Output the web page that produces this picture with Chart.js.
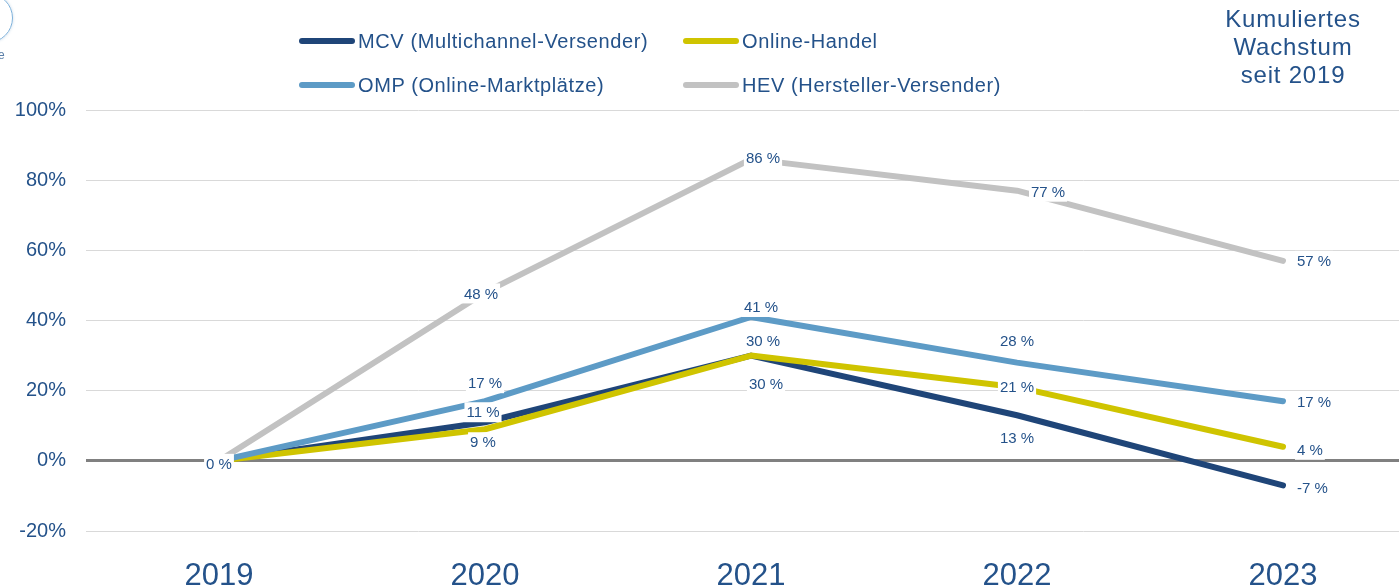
<!DOCTYPE html>
<html>
<head>
<meta charset="utf-8">
<script src="https://cdn.jsdelivr.net/npm/chart.js@4/dist/chart.umd.min.js"></script>
<style>
  body { margin: 0; width: 1399px; height: 586px; overflow: hidden; background: #fff; font-family: "Liberation Sans", Arial, sans-serif; }
  #wrap { position: absolute; left: 0; top: 0; width: 1416px; height: 586px; }
  .legend-item { position: absolute; height: 24px; display: flex; align-items: center; font-size: 20px; letter-spacing: 0.6px; color: #24528a; white-space: nowrap; }
  .legend-item .sw { display: inline-block; width: 56px; height: 6px; border-radius: 3px; margin-right: 3px; }
  #title { position: absolute; left: 1193px; top: 5px; width: 200px; text-align: center; font-size: 24px; line-height: 28px; letter-spacing: 0.8px; color: #24528a; }
  #logo { position: absolute; left: -37px; top: -7px; width: 48px; height: 48px; border: 1.5px solid #7eb1da; border-radius: 50%; box-shadow: 0 0 3px rgba(120,160,200,0.4); }
  #logoText { position: absolute; left: -2px; top: 48px; font-size: 12px; color: #5a7fa8; }
</style>
</head>
<body>
<div id="wrap"><canvas id="chart"></canvas></div>
<div id="logo"></div>
<div id="logoText">e</div>
<div id="title">Kumuliertes<br>Wachstum<br>seit 2019</div>
<div id="legend"></div>
<script>
// chart data
const years = ['2019', '2020', '2021', '2022', '2023'];
const seriesNames = ['MCV (Multichannel-Versender)', 'Online-Handel', 'OMP (Online-Marktplätze)', 'HEV (Hersteller-Versender)'];
const mcvValues = [0, 11, 30, 13, -7];
const onlineValues = [0, 9, 30, 21, 4];
const ompValues = [0, 17, 41, 28, 17];
const hevValues = [0, 48, 86, 77, 57];
const yMin = -20, yMax = 100, yStep = 20;

const textColor = '#24528a';
const seriesColors = ['#1f4578', '#cfc400', '#5d9bc6', '#c2c2c2'];

// label placement per point: [align, dx, dy]  (c = centered, r = right of point)
const labelPlaces = [
  [['c', 0, 3], ['c', -2, -10], ['c', 12, -15], ['c', 0, 23], ['r', 14, 2]],
  [null, ['c', -2, 13], ['c', 15, 28], ['c', 0, 0], ['r', 14, 3]],
  [null, ['c', 0, -18], ['c', 10, -10], ['c', 0, -22], ['r', 14, 1]],
  [null, ['c', -4, 1], ['c', 12, -1], ['r', 14, 1], ['r', 14, 0]]
];
// legend item positions (left, top)
const legendPos = [[299, 29], [683, 29], [299, 73], [683, 73]];

const allValues = [mcvValues, onlineValues, ompValues, hevValues];
const drawOrder = [3, 2, 1, 4];

// html legend
const legendEl = document.getElementById('legend');
seriesNames.forEach(function(name, i) {
  const item = document.createElement('div');
  item.className = 'legend-item';
  item.style.left = legendPos[i][0] + 'px';
  item.style.top = legendPos[i][1] + 'px';
  item.innerHTML = '<span class="sw" style="background:' + seriesColors[i] + '"></span>' + name;
  legendEl.appendChild(item);
});

const pointLabels = {
  id: 'pointLabels',
  afterDatasetsDraw(chart) {
    const ctx = chart.ctx;
    ctx.save();
    ctx.font = '15px "Liberation Sans", Arial, sans-serif';
    ctx.textBaseline = 'middle';
    ctx.textAlign = 'left';
    chart.data.datasets.forEach(function(ds, i) {
      const meta = chart.getDatasetMeta(i);
      meta.data.forEach(function(pt, j) {
        const place = labelPlaces[i][j];
        if (!place) return;
        const txt = ds.data[j] + ' %';
        const w = ctx.measureText(txt).width;
        const y = pt.y + place[2];
        const left = place[0] === 'r' ? pt.x + place[1] : pt.x + place[1] - w / 2;
        ctx.fillStyle = '#fff';
        ctx.fillRect(left - 2, y - 10, w + 4, 20);
        ctx.fillStyle = textColor;
        ctx.fillText(txt, left, y + 1);
      });
    });
    ctx.restore();
  }
};

new Chart(document.getElementById('chart'), {
  type: 'line',
  data: {
    labels: years,
    datasets: allValues.map(function(vals, i) {
      return {
        label: seriesNames[i],
        data: vals,
        borderColor: seriesColors[i],
        backgroundColor: seriesColors[i],
        borderWidth: 6,
        borderCapStyle: 'round',
        borderJoinStyle: 'round',
        pointRadius: 0,
        tension: 0,
        order: drawOrder[i]
      };
    })
  },
  options: {
    responsive: true,
    maintainAspectRatio: false,
    animation: false,
    layout: { padding: { top: 110, left: 0, right: 0, bottom: 0 } },
    plugins: {
      legend: { display: false },
      tooltip: { enabled: false }
    },
    scales: {
      x: {
        offset: true,
        grid: { display: false },
        border: { display: false },
        ticks: { color: textColor, font: { size: 31, family: '"Liberation Sans", Arial, sans-serif' }, padding: 19 },
        afterFit: function(scale) { scale.height = 55; }
      },
      y: {
        min: yMin,
        max: yMax,
        border: { display: false },
        grid: {
          drawTicks: false,
          color: function(c) { return c.tick && c.tick.value === 0 ? '#808080' : '#d9d9d9'; },
          lineWidth: function(c) { return c.tick && c.tick.value === 0 ? 3 : 1; }
        },
        ticks: {
          stepSize: yStep,
          padding: 20,
          color: textColor,
          font: { size: 20, family: '"Liberation Sans", Arial, sans-serif' },
          callback: function(v) { return v + '%'; }
        },
        afterFit: function(scale) { scale.width = 86; }
      }
    }
  },
  plugins: [pointLabels]
});
</script>
</body>
</html>
